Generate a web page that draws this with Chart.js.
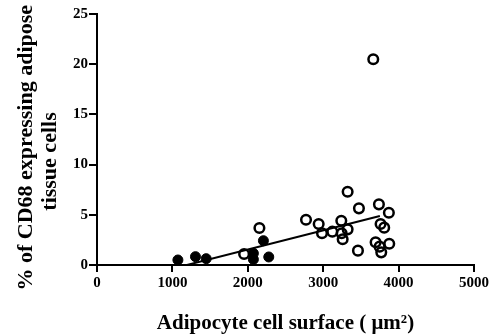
<!DOCTYPE html>
<html>
<head>
<meta charset="utf-8">
<script src="https://cdn.jsdelivr.net/npm/chart.js@4"></script>
<style>
  html, body { margin: 0; padding: 0; background: #fff; }
  #wrap { width: 493px; height: 336px; }
</style>
</head>
<body>
<div id="wrap"><canvas id="scatterChart"></canvas></div>
<script>
// values
const filledX = [1073, 1306, 1448, 2074, 2074, 2207, 2278];
const filledY = [0.5, 0.83, 0.63, 1.16, 0.56, 2.42, 0.8];

const openX = [3664, 2154, 1951, 2772, 2940, 2984, 3121, 3240, 3245, 3258, 3324, 3324, 3474, 3461, 3739, 3871, 3761, 3809, 3695, 3748, 3770, 3876];
const openY = [20.5, 3.68, 1.1, 4.51, 4.08, 3.16, 3.32, 4.41, 3.16, 2.56, 3.55, 7.3, 5.64, 1.43, 6.04, 5.21, 4.08, 3.72, 2.26, 1.83, 1.26, 2.12];

const fitX = [1050, 3752];
const fitY = [-0.27, 4.88];

const xTicks = [0, 1000, 2000, 3000, 4000, 5000];
const yTicks = [0, 5, 10, 15, 20, 25];

const toPoints = (xs, ys) => xs.map((x, i) => ({ x: x, y: ys[i] }));

const serif = "'Liberation Serif', 'Times New Roman', serif";

window.addEventListener('DOMContentLoaded', () => {
    const ctx = document.getElementById('scatterChart');
    new Chart(ctx, {
        type: 'scatter',
        data: {
            datasets: [
                {
                    label: 'fit',
                    type: 'line',
                    data: toPoints(fitX, fitY),
                    borderColor: '#000',
                    borderWidth: 2,
                    pointRadius: 0,
                    fill: false
                },
                {
                    label: 'open',
                    data: toPoints(openX, openY),
                    pointRadius: 4.8,
                    pointBackgroundColor: 'rgba(255,255,255,0)',
                    pointBorderColor: '#000',
                    pointBorderWidth: 2.5
                },
                {
                    label: 'filled',
                    data: toPoints(filledX, filledY),
                    pointRadius: 5,
                    pointBackgroundColor: '#000',
                    pointBorderColor: '#000',
                    pointBorderWidth: 1
                }
            ]
        },
        options: {
            responsive: true,
            maintainAspectRatio: false,
            animation: false,
            layout: { padding: { left: 0, right: 19, top: 14, bottom: 0 } },
            plugins: {
                legend: { display: false },
                tooltip: { enabled: false }
            },
            scales: {
                x: {
                    type: 'linear',
                    min: 0,
                    max: 5000,
                    afterBuildTicks: (s) => { s.ticks = xTicks.map(v => ({ value: v })); },
                    afterFit: (s) => { s.height = 71; },
                    grid: { drawOnChartArea: false, drawTicks: true, tickLength: 7, color: '#000', lineWidth: 2 },
                    border: { display: true, color: '#000', width: 2 },
                    ticks: {
                        color: '#000', padding: 2, maxRotation: 0,
                        callback: (v) => String(v),
                        font: { family: serif, size: 15, weight: 'bold' }
                    },
                    title: {
                        display: true,
                        text: 'Adipocyte cell surface ( \u03bcm\u00b2)',
                        color: '#000',
                        padding: { top: 8, bottom: 0 },
                        font: { family: serif, size: 21, weight: 'bold' }
                    }
                },
                y: {
                    type: 'linear',
                    min: 0,
                    max: 25,
                    afterBuildTicks: (s) => { s.ticks = yTicks.map(v => ({ value: v })); },
                    afterFit: (s) => { s.width = 97; },
                    grid: { drawOnChartArea: false, drawTicks: true, tickLength: 8, color: '#000', lineWidth: 2 },
                    border: { display: true, color: '#000', width: 2 },
                    ticks: {
                        color: '#000', padding: 1,
                        callback: (v) => String(v),
                        font: { family: serif, size: 15, weight: 'bold' }
                    },
                    title: {
                        display: true,
                        // trailing spaces nudge the centred lines down like the original
                        text: ['% of CD68 expressing adipose   ', 'tissue cells        '],
                        color: '#000',
                        padding: { top: 14, bottom: 0 },
                        font: { family: serif, size: 22, weight: 'bold', lineHeight: 1.1 }
                    }
                }
            }
        }
    });
});
</script>
</body>
</html>
